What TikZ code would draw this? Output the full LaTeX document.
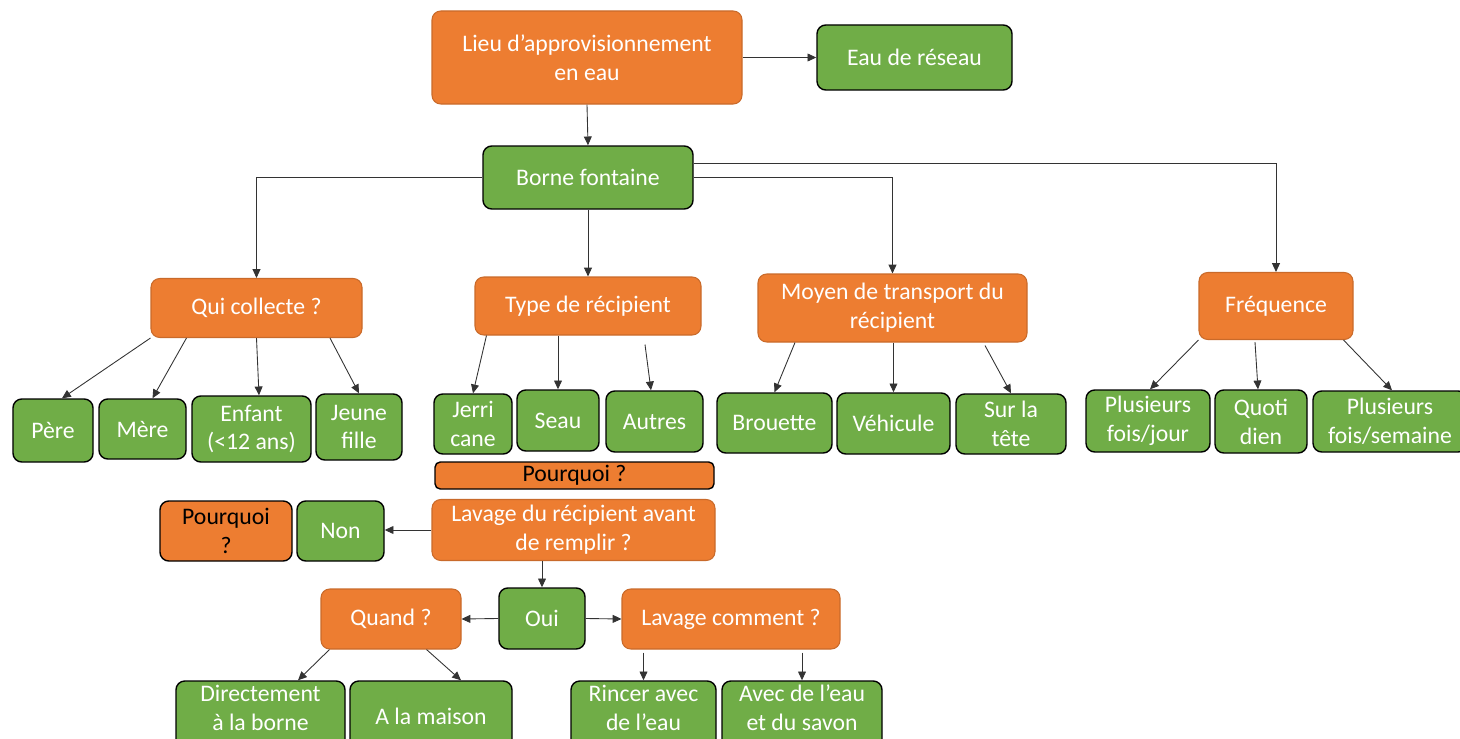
\documentclass[tikz,border=0pt]{standalone}
\usepackage{fontspec}
\setmainfont{Carlito}
\usepackage{tikz}
\usepackage{xcolor}
\definecolor{orangebox}{RGB}{237,125,49}
\definecolor{greenbox}{RGB}{112,173,71}
\usetikzlibrary{arrows.meta}
\tikzset{
	box/.style={rounded corners=5pt, align=center, inner sep=1pt, font=\fontsize{13.5}{16.4}\selectfont},
	question/.style={box, fill=orangebox, draw=orangebox!85!black, line width=0.6pt, text=white},
	answer/.style={box, fill=greenbox, draw=black, line width=0.8pt, text=white},
	why/.style={box, fill=orangebox, draw=black, line width=0.8pt, text=black},
	lowrow/.style={answer, minimum height=1.4cm, text depth=0.34cm},
	arr/.style={-{Triangle[length=5pt,width=4.5pt]}, line width=0.5pt, draw=black!80}
}

\begin{document}
\begin{tikzpicture}
	\useasboundingbox (0,0) rectangle (29.2,-14.78);
	
	% top
	\node[question, minimum width=6.2cm, minimum height=1.86cm] (lieu) at (11.74,-1.15) {Lieu d'approvisionnement\\en eau};
	\node[answer, minimum width=3.9cm, minimum height=1.3cm] (reseau) at (18.29,-1.15) {Eau de réseau};
	\node[answer, minimum width=4.2cm, minimum height=1.26cm] (borne) at (11.76,-3.55) {Borne fontaine};
	
	% questions
	\node[question, minimum width=4.22cm, minimum height=1.18cm] (qui) at (5.13,-6.16) {Qui collecte ?};
	\node[question, minimum width=4.52cm, minimum height=1.16cm] (type) at (11.76,-6.12) {Type de récipient};
	\node[question, minimum width=5.38cm, minimum height=1.36cm] (moyen) at (17.85,-6.16) {Moyen de transport du\\récipient};
	\node[question, minimum width=3.08cm, minimum height=1.34cm] (freq) at (25.52,-6.12) {Fréquence};
	
	% qui collecte
	\node[answer, minimum width=1.6cm, minimum height=1.26cm] (pere) at (1.06,-8.61) {Père};
	\node[answer, minimum width=1.74cm, minimum height=1.2cm] (mere) at (2.85,-8.58) {Mère};
	\node[answer, minimum width=2.38cm, minimum height=1.32cm] (enfant) at (5.03,-8.58) {Enfant\\(<12 ans)};
	\node[answer, minimum width=1.72cm, minimum height=1.32cm] (jeune) at (7.18,-8.54) {Jeune\\fille};
	
	% type de recipient
	\node[answer, minimum width=1.56cm, minimum height=1.2cm] (jerri) at (9.46,-8.48) {Jerri\\cane};
	\node[answer, minimum width=1.64cm, minimum height=1.22cm] (seau) at (11.16,-8.41) {Seau};
	\node[answer, minimum width=1.94cm, minimum height=1.22cm] (autres) at (13.09,-8.43) {Autres};
	\node[why, minimum width=5.58cm, minimum height=0.54cm, rounded corners=3pt] (pqtype) at (11.49,-9.51) {Pourquoi ?};
	
	% transport
	\node[answer, minimum width=2.3cm, minimum height=1.2cm] (brouette) at (15.49,-8.46) {Brouette};
	\node[answer, minimum width=2.26cm, minimum height=1.22cm] (vehicule) at (17.87,-8.47) {Véhicule};
	\node[answer, minimum width=2.2cm, minimum height=1.2cm] (tete) at (20.22,-8.48) {Sur la\\tête};
	
	% frequence
	\node[answer, minimum width=2.48cm, minimum height=1.24cm] (parjour) at (22.96,-8.42) {Plusieurs\\fois/jour};
	\node[answer, minimum width=1.84cm, minimum height=1.26cm] (quoti) at (25.22,-8.43) {Quoti\\dien};
	\node[answer, minimum width=3.08cm, minimum height=1.22cm] (parsemaine) at (27.8,-8.43) {Plusieurs\\fois/semaine};
	
	% lavage
	\node[question, minimum width=5.66cm, minimum height=1.22cm] (lavage) at (11.47,-10.6) {Lavage du récipient avant\\de remplir ?};
	\node[why, minimum width=2.64cm, minimum height=1.2cm] (pqnon) at (4.52,-10.62) {Pourquoi\\?};
	\node[answer, minimum width=1.74cm, minimum height=1.2cm] (non) at (6.81,-10.62) {Non};
	\node[answer, minimum width=1.72cm, minimum height=1.22cm] (oui) at (10.84,-12.37) {Oui};
	\node[question, minimum width=2.8cm, minimum height=1.2cm] (quand) at (7.82,-12.38) {Quand ?};
	\node[question, minimum width=4.36cm, minimum height=1.2cm] (comment) at (14.62,-12.38) {Lavage comment ?};
	
	% bottom
	\node[lowrow, minimum width=3.38cm] (borneq) at (5.21,-14.32) {Directement\\à la borne};
	\node[answer, minimum width=3.24cm, minimum height=1.4cm] (maison) at (8.62,-14.32) {A la maison};
	\node[lowrow, minimum width=2.9cm] (rincer) at (12.87,-14.32) {Rincer avec\\de l'eau};
	\node[lowrow, minimum width=3.2cm] (savon) at (16.04,-14.32) {Avec de l'eau\\et du savon};
	
	% connectors
	\draw[arr] (lieu.south) -- (borne.north);
	\draw[arr] (lieu.east) -- (reseau.west);
	\draw[arr] (borne.west) -| (qui.north);
	\draw[arr] (borne.south) -- (type.north);
	\draw[arr] (borne.east) -| (moyen.north);
	\draw[arr] ([yshift=0.29cm]borne.east) -| (freq.north);
	
	\draw[arr] (qui.south west) -- ([xshift=0.18cm]pere.north);
	\draw[arr] ([xshift=0.72cm]qui.south west) -- ([xshift=0.2cm]mere.north);
	\draw[arr] (qui.south) -- ([xshift=0.15cm]enfant.north);
	\draw[arr] ([xshift=1.47cm]qui.south) -- (jeune.north);
	
	\draw[arr] ([xshift=0.24cm]type.south west) -- (jerri.north);
	\draw[arr] (seau.north |- type.south) -- (seau.north);
	\draw[arr] ([xshift=1.14cm, yshift=-0.18cm]type.south) -- ([xshift=-0.07cm]autres.north);
	
	\draw[arr] ([xshift=-1.95cm]moyen.south) -- (brouette.north);
	\draw[arr] (vehicule.north |- moyen.south) -- (vehicule.north);
	\draw[arr] ([xshift=1.85cm, yshift=-0.06cm]moyen.south) -- (tete.north);
	
	\draw[arr] (freq.south west) -- ([xshift=0.04cm]parjour.north);
	\draw[arr] ([xshift=-0.42cm, yshift=-0.04cm]freq.south) -- ([xshift=-0.06cm]quoti.north);
	\draw[arr] ([xshift=-0.2cm]freq.south east) -- ([xshift=0.04cm]parsemaine.north);
	
	\draw[arr] (lavage.west) -- (lavage.west -| non.east);
	\draw[arr] (oui.north |- lavage.south) -- (oui.north);
	\draw[arr] (oui.west) -- (quand.east);
	\draw[arr] (oui.east) -- (comment.west);
	
	\draw[arr] ([xshift=0.18cm]quand.south west) -- ([xshift=0.75cm]borneq.north);
	\draw[arr] ([xshift=-0.7cm]quand.south east) -- ([xshift=0.6cm]maison.north);
	\draw[arr] ([yshift=-0.06cm]rincer.north |- comment.south) -- (rincer.north);
	\draw[arr] ([yshift=-0.06cm]savon.north |- comment.south) -- (savon.north);
\end{tikzpicture}
\end{document}
